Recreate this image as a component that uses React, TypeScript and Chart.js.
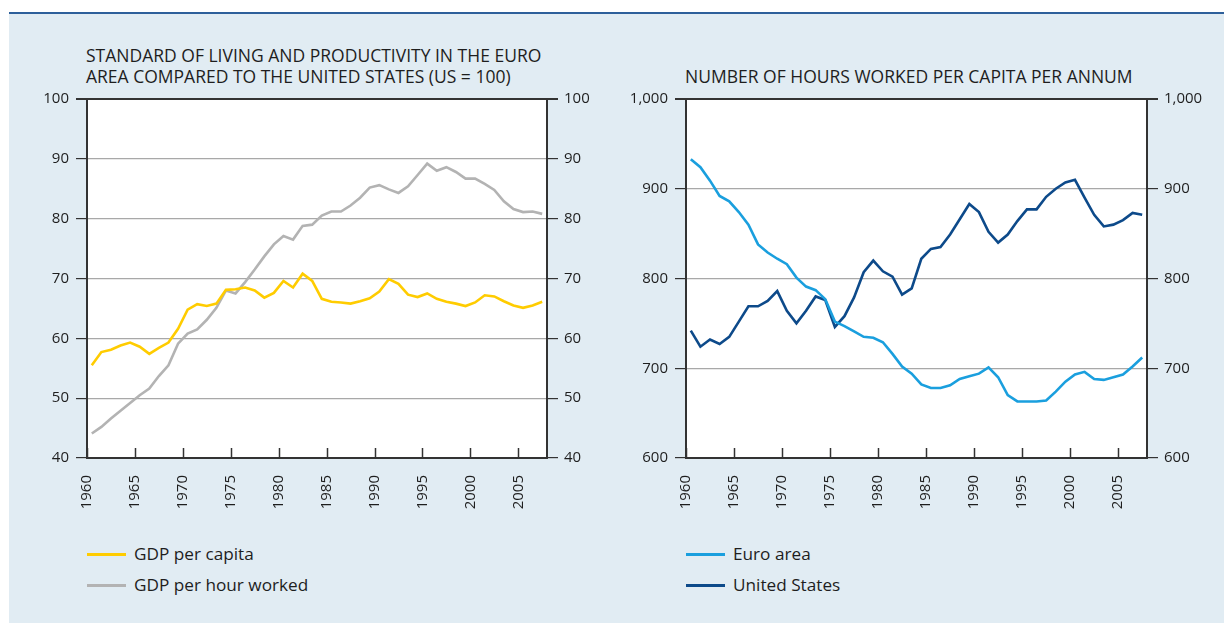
import React, { useEffect, useRef } from "react";
import { Chart, registerables } from "chart.js";

Chart.register(...registerables);

const years = [
  1960, 1961, 1962, 1963, 1964, 1965, 1966, 1967, 1968, 1969,
  1970, 1971, 1972, 1973, 1974, 1975, 1976, 1977, 1978, 1979,
  1980, 1981, 1982, 1983, 1984, 1985, 1986, 1987, 1988, 1989,
  1990, 1991, 1992, 1993, 1994, 1995, 1996, 1997, 1998, 1999,
  2000, 2001, 2002, 2003, 2004, 2005, 2006, 2007,
];

const gdpPerCapita = [
  55.5, 57.7, 58.1, 58.8, 59.3, 58.6, 57.4, 58.4, 59.3, 61.6,
  64.8, 65.7, 65.4, 65.8, 68.1, 68.2, 68.5, 68.0, 66.8, 67.6,
  69.6, 68.5, 70.8, 69.6, 66.6, 66.1, 66.0, 65.8, 66.2, 66.7,
  67.8, 69.9, 69.1, 67.3, 66.9, 67.5, 66.6, 66.1, 65.8, 65.4,
  66.0, 67.2, 67.0, 66.2, 65.5, 65.1, 65.5, 66.1,
];

const gdpPerHourWorked = [
  44.1, 45.2, 46.6, 47.9, 49.2, 50.5, 51.6, 53.7, 55.5, 59.1,
  60.8, 61.5, 63.1, 65.1, 68.0, 67.5, 69.4, 71.5, 73.7, 75.7,
  77.1, 76.5, 78.8, 79.0, 80.5, 81.2, 81.2, 82.2, 83.5, 85.2,
  85.6, 84.9, 84.3, 85.4, 87.3, 89.2, 88.0, 88.6, 87.8, 86.7,
  86.7, 85.8, 84.8, 82.9, 81.6, 81.1, 81.2, 80.8,
];

const euroAreaHours = [
  933, 924, 909, 892, 886, 874, 860, 838, 829, 822,
  816, 801, 791, 787, 777, 752, 747, 741, 735, 734,
  729, 716, 702, 694, 682, 678, 678, 681, 688, 691,
  694, 701, 690, 670, 663, 663, 663, 664, 674, 685,
  693, 696, 688, 687, 690, 693, 702, 712,
];

const unitedStatesHours = [
  742, 724, 732, 727, 735, 752, 769, 769, 775, 786,
  764, 750, 764, 780, 776, 746, 758, 779, 807, 820,
  808, 802, 782, 789, 822, 833, 835, 849, 866, 883,
  874, 852, 840, 849, 864, 877, 877, 891, 900, 907,
  910, 890, 871, 858, 860, 865, 873, 871,
];

const xTickYears = [1960, 1965, 1970, 1975, 1980, 1985, 1990, 1995, 2000, 2005];

const leftTitle = ["STANDARD OF LIVING AND PRODUCTIVITY IN THE EURO", "AREA COMPARED TO THE UNITED STATES (US = 100)"];
const rightTitle = ["NUMBER OF HOURS WORKED PER CAPITA PER ANNUM"];

const leftSeries = [
  { label: "GDP per capita", values: gdpPerCapita, color: "#ffcc00" },
  { label: "GDP per hour worked", values: gdpPerHourWorked, color: "#b3b3b3" },
];
const rightSeries = [
  { label: "Euro area", values: euroAreaHours, color: "#1a9fde" },
  { label: "United States", values: unitedStatesHours, color: "#0d4a8a" },
];

const FONT = "'Open Sans', 'DejaVu Sans', sans-serif";
const TEXT = "#1e1e1e";
const GRID = "#a8a8a8";
const AXIS = "#333333";

const CANVAS_TOP = 83;
const CANVAS_H = 447;

type Series = { label: string; values: number[]; color: string };

function buildConfig(
  series: Series[],
  yMin: number,
  yMax: number,
  yStep: number,
  fmt: (v: number) => string,
  leftW: number,
  rightW: number
): any {
  const inwardTicks = {
    id: "inwardTicks",
    beforeDraw(chart: any) {
      const { ctx, chartArea } = chart;
      ctx.save();
      ctx.fillStyle = "#ffffff";
      ctx.fillRect(chartArea.left, chartArea.top, chartArea.right - chartArea.left, chartArea.bottom - chartArea.top);
      ctx.restore();
    },
    afterDraw(chart: any) {
      const { ctx, chartArea, scales } = chart;
      ctx.save();
      ctx.strokeStyle = AXIS;
      ctx.lineWidth = 1.5;
      xTickYears.forEach((yr) => {
        const x = Math.round(scales.x.getPixelForValue(yr)) + 0.5;
        ctx.beginPath();
        ctx.moveTo(x, chartArea.bottom);
        ctx.lineTo(x, chartArea.bottom - 10);
        ctx.stroke();
      });
      ctx.restore();
    },
  };

  const yAxis = (position: "left" | "right", main: boolean) => ({
    type: "linear",
    position,
    min: yMin,
    max: yMax,
    afterFit: (s: any) => {
      s.width = position === "left" ? leftW : rightW;
    },
    grid: {
      display: true,
      drawOnChartArea: main,
      drawTicks: true,
      tickLength: 11,
      tickColor: AXIS,
      lineWidth: (c: any) => (c.tick && c.tick.value === yMax ? 2 : 1.2),
      color: (c: any) => (c.tick && c.tick.value === yMax ? AXIS : GRID),
    },
    border: { display: true, color: AXIS, width: 2 },
    ticks: {
      stepSize: yStep,
      padding: position === "left" ? 7 : 6,
      color: TEXT,
      font: { family: FONT, size: 15 },
      callback: (v: any) => fmt(Number(v)),
    },
  });

  return {
    type: "line",
    data: {
      datasets: series.map((s) => ({
        label: s.label,
        data: years.map((yr, i) => ({ x: yr + 0.5, y: s.values[i] })),
        borderColor: s.color,
        backgroundColor: s.color,
        borderWidth: 2.6,
        pointRadius: 0,
        tension: 0,
        fill: false,
        yAxisID: "y",
      })),
    },
    options: {
      responsive: false,
      animation: false,
      devicePixelRatio: 1,
      layout: { padding: 0 },
      plugins: {
        legend: { display: false },
        title: { display: false },
        tooltip: { enabled: false },
      },
      scales: {
        x: {
          type: "linear",
          min: 1960,
          max: 2008,
          afterFit: (s: any) => {
            s.height = 72;
          },
          afterBuildTicks: (s: any) => {
            s.ticks = xTickYears.map((v) => ({ value: v }));
          },
          grid: { display: false, drawTicks: false },
          border: { display: true, color: AXIS, width: 2 },
          ticks: {
            color: TEXT,
            font: { family: FONT, size: 15 },
            minRotation: 90,
            maxRotation: 90,
            padding: 17,
            autoSkip: false,
            callback: (v: any) => String(v),
          },
        },
        y: yAxis("left", true),
        y2: yAxis("right", false),
      },
    },
    plugins: [inwardTicks],
  };
}

function ChartPanel(props: {
  series: Series[];
  yMin: number;
  yMax: number;
  yStep: number;
  fmt: (v: number) => string;
  left: number;
  width: number;
  plotLeft: number;
  plotRight: number;
}) {
  const ref = useRef<HTMLCanvasElement | null>(null);
  useEffect(() => {
    if (!ref.current) return;
    const leftW = props.plotLeft - props.left;
    const rightW = props.left + props.width - props.plotRight;
    const chart = new Chart(
      ref.current,
      buildConfig(props.series, props.yMin, props.yMax, props.yStep, props.fmt, leftW, rightW)
    );
    return () => chart.destroy();
  }, []);
  return (
    <canvas
      ref={ref}
      width={props.width}
      height={CANVAS_H}
      style={{ position: "absolute", left: props.left, top: CANVAS_TOP, width: props.width, height: CANVAS_H }}
    />
  );
}

function Legend(props: { series: Series[]; left: number; top: number }) {
  return (
    <div style={{ position: "absolute", left: props.left, top: props.top }}>
      {props.series.map((s, i) => (
        <div key={s.label} style={{ position: "absolute", left: 0, top: i * 31, height: 24, width: 300 }}>
          <div style={{ position: "absolute", left: 0, top: 11, width: 39, height: 3, background: s.color }} />
          <div
            style={{
              position: "absolute",
              left: 47,
              top: 0,
              fontFamily: FONT,
              fontSize: 17.2,
              lineHeight: "24px",
              color: TEXT,
              whiteSpace: "nowrap",
            }}
          >
            {s.label}
          </div>
        </div>
      ))}
    </div>
  );
}

function Title(props: { lines: string[]; left: number; top: number }) {
  return (
    <div
      style={{
        position: "absolute",
        left: props.left,
        top: props.top,
        fontFamily: FONT,
        fontSize: 17.5,
        lineHeight: "21px",
        color: TEXT,
        whiteSpace: "nowrap",
      }}
    >
      {props.lines.map((l) => (
        <div key={l}>{l}</div>
      ))}
    </div>
  );
}

export default function App() {
  return (
    <div style={{ position: "absolute", left: 0, top: 0, width: 1224, height: 623, background: "#ffffff", overflow: "hidden" }}>
      <div style={{ position: "absolute", left: 9, top: 12, width: 1215, height: 2, background: "#2d5f9a" }} />
      <div style={{ position: "absolute", left: 9, top: 14, width: 1215, height: 609, background: "#e1ecf3" }} />
      <Title lines={leftTitle} left={86} top={45} />
      <Title lines={rightTitle} left={685} top={66} />
      <ChartPanel
        series={leftSeries}
        yMin={40}
        yMax={100}
        yStep={10}
        fmt={(v) => String(v)}
        left={0}
        width={610}
        plotLeft={87}
        plotRight={547}
      />
      <ChartPanel
        series={rightSeries}
        yMin={600}
        yMax={1000}
        yStep={100}
        fmt={(v) => v.toLocaleString("en-US")}
        left={610}
        width={614}
        plotLeft={686}
        plotRight={1147}
      />
      <Legend series={leftSeries} left={87} top={542} />
      <Legend series={rightSeries} left={686} top={542} />
    </div>
  );
}
